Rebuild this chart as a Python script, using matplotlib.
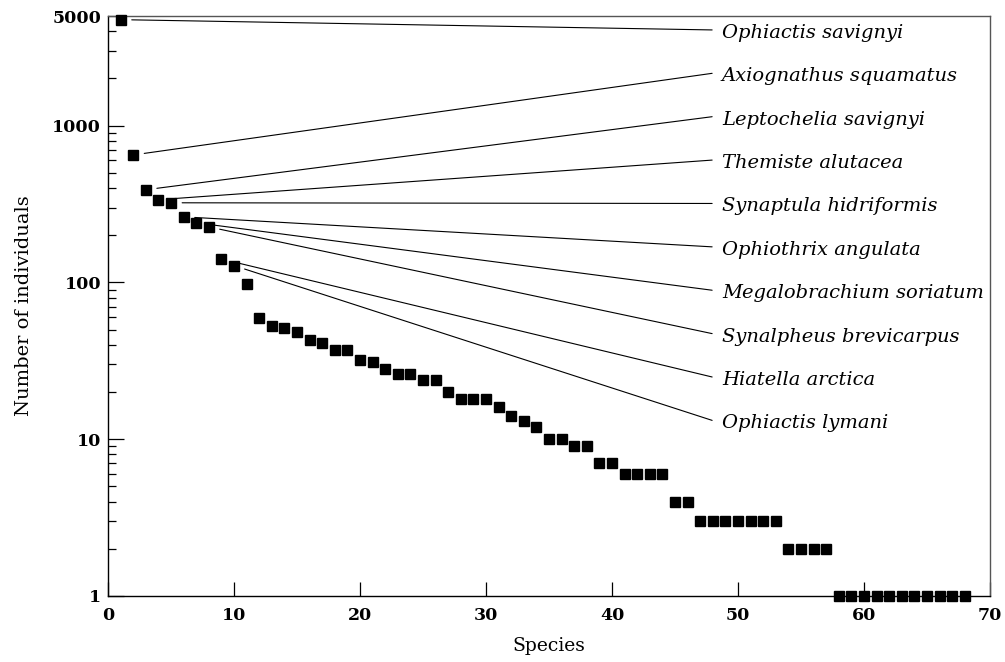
import matplotlib
matplotlib.use("Agg")
import matplotlib.pyplot as plt
from matplotlib.ticker import FixedLocator, NullFormatter

# rank-abundance data
species_rank = list(range(1, 69))
individuals = [
    4740, 650, 390, 337, 322, 262, 240, 226, 141, 128,
    97, 59, 53, 51, 48, 43, 41, 37, 37, 32,
    31, 28, 26, 26, 24, 24, 20, 18, 18, 18,
    16, 14, 13, 12, 10, 10, 9, 9, 7, 7,
    6, 6, 6, 6, 4, 4, 3, 3, 3, 3,
    3, 3, 3, 2, 2, 2, 2, 1, 1, 1,
    1, 1, 1, 1, 1, 1, 1, 1,
]

# labelled species, by rank
label_names = [
    "Ophiactis savignyi",
    "Axiognathus squamatus",
    "Leptochelia savignyi",
    "Themiste alutacea",
    "Synaptula hidriformis",
    "Ophiothrix angulata",
    "Megalobrachium soriatum",
    "Synalpheus brevicarpus",
    "Hiatella arctica",
    "Ophiactis lymani",
]
label_ranks = [1, 2, 3, 4, 5, 6, 7, 8, 9, 10]

y_major = [1, 10, 100, 1000, 5000]

plt.rcParams["font.family"] = ["DejaVu Serif"]

fig = plt.figure(figsize=(10.05, 6.62), dpi=100)
ax = fig.add_axes([0.1075, 0.0997, 0.8775, 0.8761])

ax.plot(
    species_rank,
    individuals,
    linestyle="none",
    marker="s",
    markersize=7.2,
    color="black",
    clip_on=False,
    zorder=3
)

ax.set_yscale("log")
ax.set_xlim(0, 70)
ax.set_ylim(1, 5000)

# annotation lines from points to names
for i, (name, rank) in enumerate(zip(label_names, label_ranks)):
    ty = 0.976 - i * 0.0748
    ax.annotate(
        "",
        xy=(rank, individuals[rank - 1]),
        xycoords="data",
        xytext=(0.685, ty),
        textcoords="axes fraction",
        arrowprops=dict(
            arrowstyle="-",
            color="black",
            lw=0.8,
            shrinkA=0,
            shrinkB=8
        )
    )
    ax.text(
        0.696,
        ty - 0.005,
        name,
        transform=ax.transAxes,
        fontsize=14,
        fontstyle="italic",
        va="center",
        ha="left"
    )

ax.yaxis.set_major_locator(FixedLocator(y_major))
ax.set_yticklabels([str(v) for v in y_major])
minor = []
for dec in [1, 10, 100]:
    minor += [dec * k for k in range(2, 10)]
minor += [2000, 3000, 4000]
ax.yaxis.set_minor_locator(FixedLocator(minor))
ax.yaxis.set_minor_formatter(NullFormatter())

ax.set_xticks(range(0, 71, 10))
ax.xaxis.set_minor_locator(FixedLocator([]))

ax.tick_params(axis="y", which="major", direction="in", length=11.5,
               width=0.9, labelsize=12.5, pad=5, right=False)
ax.tick_params(axis="y", which="minor", direction="in", length=5.8,
               width=0.9, right=False)
ax.tick_params(axis="x", which="major", direction="in", length=10,
               width=0.9, labelsize=12.5, pad=8, top=False)

for lab in ax.get_xticklabels() + ax.get_yticklabels():
    lab.set_fontweight("bold")

ax.spines["left"].set_color("black")
ax.spines["bottom"].set_color("black")
ax.spines["top"].set_color("#555555")
ax.spines["right"].set_color("#555555")
for s in ax.spines.values():
    s.set_linewidth(1.0)

ax.set_xlabel("Species", fontsize=13.5, labelpad=9)
ax.set_ylabel("Number of individuals", fontsize=14, labelpad=14)

plt.savefig("out.png", dpi=100)
plt.close()
